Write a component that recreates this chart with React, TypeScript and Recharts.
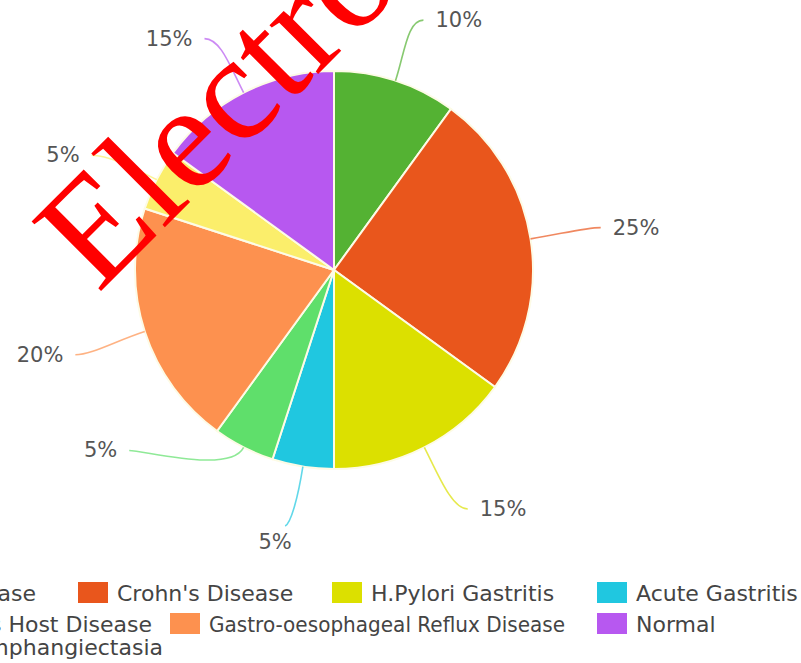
import { PieChart, Pie, Cell, Legend } from "recharts";

const NAMES = [
  "Coeliac Disease",
  "Crohn's Disease",
  "H.Pylori Gastritis",
  "Acute Gastritis",
  "Graft vs Host Disease",
  "Gastro-oesophageal Reflux Disease",
  "Intestinal Lymphangiectasia",
  "Normal",
];
const SHARES = [10, 25, 15, 5, 5, 20, 5, 15];
const COLORS = [
  "#54b233",
  "#e9561c",
  "#dce000",
  "#20c7e0",
  "#5fdf6b",
  "#fd914f",
  "#fbee6b",
  "#b758f0",
];

// labels are pushed a bit off the mid-angle so they don't collide (degrees, clockwise)
const LABEL_NUDGE = [3, -1, -4, 3, 23, 1, -1, -3];

// legend: visible items are placed by box x, the cropped ones by the end of their text
// fit = squeeze the text into that width (the long one is condensed in the original)
const LEGEND_ITEMS: { i: number; x?: number; endX?: number; y: number; fit?: number }[] = [
  { i: 0, endX: 36, y: 601 },
  { i: 1, x: 78, y: 601 },
  { i: 2, x: 332, y: 601 },
  { i: 3, x: 597, y: 601 },
  { i: 4, endX: 152, y: 632 },
  { i: 5, x: 170, y: 632, fit: 356 },
  { i: 7, x: 597, y: 632 },
  { i: 6, endX: 163, y: 655 },
];

const data = NAMES.map((name, i) => ({ name, value: SHARES[i] }));

const RAD = Math.PI / 180;
const FONT = "'DejaVu Sans', sans-serif";

// a = degrees clockwise from 12 o'clock
const polar = (cx: number, cy: number, rx: number, a: number, ry = rx) => [
  cx + rx * Math.sin(a * RAD),
  cy - ry * Math.cos(a * RAD),
];

const renderLabel = (props: any) => {
  const { cx, cy, midAngle, outerRadius, index, percent } = props;
  const a = 90 - midAngle;
  const la = a + LABEL_NUDGE[index];
  // labels sit on a slightly flattened ring, a little below the pie centre
  const [lx, ly] = polar(cx, cy + 5, outerRadius + 84, la, outerRadius + 74);
  const s = Math.sin(la * RAD);
  const anchor = s > 0.25 ? "start" : s < -0.25 ? "end" : "middle";
  const [x0, y0] = polar(cx, cy, outerRadius, a);
  const [x1, y1] = polar(cx, cy, outerRadius + 30, a);
  let ex: number, ey: number, c2x: number, c2y: number;
  if (anchor === "middle") {
    ex = lx + 10;
    ey = ly - 16;
    c2x = ex + 6;
    c2y = ey - 3;
  } else {
    const d = anchor === "start" ? 1 : -1;
    ex = lx - d * 12;
    ey = ly;
    c2x = ex - d * 16;
    c2y = ey;
  }
  const color = COLORS[index];
  return (
    <g key={`lbl-${index}`}>
      <path
        d={`M${x0},${y0} C${x1},${y1} ${c2x},${c2y} ${ex},${ey}`}
        fill="none"
        stroke={color}
        strokeOpacity={0.7}
        strokeWidth={1.6}
      />
      <text
        x={lx}
        y={ly}
        textAnchor={anchor}
        dominantBaseline="central"
        fill="#555"
        fontSize={21}
        fontFamily={FONT}
      >
        {`${Math.round(percent * 100)}%`}
      </text>
    </g>
  );
};

const renderLegend = () => (
  <svg width={801} height={93} style={{ display: "block" }}>
    {LEGEND_ITEMS.map((it) => {
      const top = it.y - 570;
      if (it.endX !== undefined) {
        return (
          <text
            key={it.i}
            x={it.endX}
            y={top}
            textAnchor="end"
            fill="#444"
            fontSize={22}
            fontFamily={FONT}
          >
            {NAMES[it.i]}
          </text>
        );
      }
      return (
        <g key={it.i}>
          <rect x={it.x} y={top - 19} width={30} height={21} fill={COLORS[it.i]} />
          <text
            x={it.x! + 39}
            y={top}
            fill="#444"
            fontSize={22}
            fontFamily={FONT}
            textLength={it.fit}
            lengthAdjust={it.fit ? "spacingAndGlyphs" : undefined}
          >
            {NAMES[it.i]}
          </text>
        </g>
      );
    })}
  </svg>
);

export default function App() {
  return (
    <div
      style={{
        position: "absolute",
        left: 0,
        top: 0,
        width: 801,
        height: 663,
        overflow: "hidden",
        background: "#fff",
      }}
    >
      <PieChart width={801} height={663} margin={{ top: 0, right: 0, bottom: 0, left: 0 }}>
        <Pie
          data={data}
          dataKey="value"
          nameKey="name"
          cx={334}
          cy={270}
          outerRadius={199}
          startAngle={90}
          endAngle={-270}
          stroke="#fdfbe6"
          strokeWidth={2}
          label={renderLabel}
          labelLine={false}
          isAnimationActive={false}
        >
          {data.map((d, i) => (
            <Cell key={d.name} fill={COLORS[i]} />
          ))}
        </Pie>
        <Legend
          content={renderLegend}
          wrapperStyle={{ position: "absolute", left: 0, top: 570, width: 801, height: 93 }}
        />
      </PieChart>

      {/* watermark over the picture */}
      <svg
        width={801}
        height={663}
        style={{ position: "absolute", left: 0, top: 0, pointerEvents: "none" }}
      >
        <text
          x={98}
          y={294}
          transform="rotate(-45 98 294)"
          fill="#ff0000"
          fontSize={150}
          fontFamily="'Liberation Serif', serif"
        >
          Electronic
        </text>
      </svg>
    </div>
  );
}
